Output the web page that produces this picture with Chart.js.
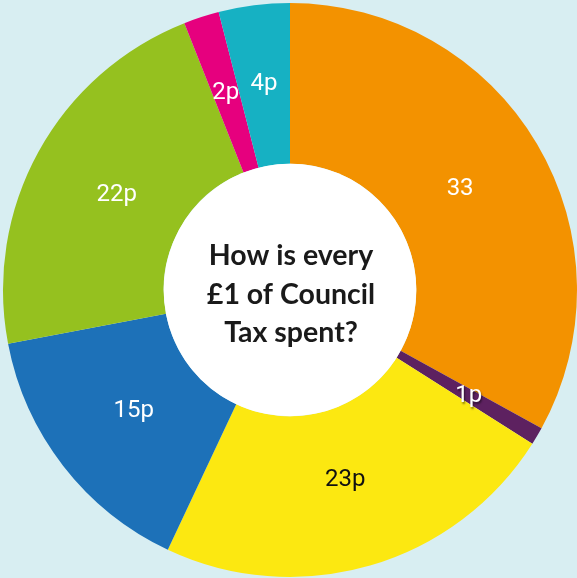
<!DOCTYPE html>
<html>
<head>
<meta charset="utf-8">
<script src="https://cdn.jsdelivr.net/npm/chart.js@4.4.0/dist/chart.umd.min.js"></script>
<style>
  html, body { margin: 0; padding: 0; background: #d8eef2; overflow: hidden; }
  #wrap { position: absolute; left: 0; top: 0; width: 580px; height: 580px; }
</style>
</head>
<body>
<div id="wrap"><canvas id="taxChart"></canvas></div>
<script>
'use strict';

// *********** DATA ****************
let services = ['Orange', 'Purple', 'Yellow', 'Blue', 'Green', 'Pink', 'Teal'];
let pence = [33, 1, 23, 15, 22, 2, 4];
let sliceLabels = ['33', '1p', '23p', '15p', '22p', '2p', '4p'];
let sliceColours = ['#f39200', '#5d2160', '#fce811', '#1d71b8', '#95c11f', '#e6007e', '#16b1c3'];
let labelColours = ['#ffffff', '#ffffff', '#111111', '#ffffff', '#ffffff', '#ffffff', '#ffffff'];
let centreLines = ['How is every', '£1 of Council', 'Tax spent?'];

// ********** PLUGIN: white centre + text ***************
let centrePlugin = {
  id: 'centre',
  afterDatasetsDraw(chart) {
    let ctx = chart.ctx;
    let meta = chart.getDatasetMeta(0);
    let arc = meta.data[0];
    let x = arc.x;
    let y = arc.y;

    ctx.save();
    ctx.fillStyle = '#ffffff';
    ctx.beginPath();
    ctx.arc(x, y, arc.innerRadius, 0, Math.PI * 2);
    ctx.fill();

    ctx.fillStyle = '#1a1a1a';
    ctx.font = 'bold 28.5px Lato';
    ctx.textAlign = 'center';
    ctx.textBaseline = 'middle';
    for (let i = 0; i < centreLines.length; i++) {
      ctx.fillText(centreLines[i], x + 1, y - 34 + i * 38.5);
    }

    // slice labels
    ctx.font = '24px Roboto';
    for (let i = 0; i < meta.data.length; i++) {
      let el = meta.data[i];
      let mid = (el.startAngle + el.endAngle) / 2;
      let r = (el.innerRadius + el.outerRadius) / 2 - 9;
      // thin slices get their label pushed out a little
      if (pence[i] <= 4) {
        r += 10;
      }
      ctx.shadowColor = 'rgba(0,0,0,0)';
      if (pence[i] === 1) {
        ctx.shadowColor = 'rgba(0,0,0,0.5)';
        ctx.shadowBlur = 2;
        ctx.shadowOffsetX = 1;
        ctx.shadowOffsetY = 2;
      }
      ctx.fillStyle = labelColours[i];
      ctx.fillText(sliceLabels[i], x + Math.cos(mid) * r, y + Math.sin(mid) * r);
    }
    ctx.restore();
  }
};

// ********** CHART ********************
let ctx = document.getElementById('taxChart').getContext('2d');

new Chart(ctx, {
  type: 'doughnut',
  data: {
    labels: services,
    datasets: [{
      data: pence,
      backgroundColor: sliceColours,
      borderWidth: 0
    }]
  },
  options: {
    responsive: true,
    maintainAspectRatio: false,
    animation: false,
    cutout: '44%',
    layout: { padding: 3 },
    plugins: {
      legend: { display: false },
      tooltip: { enabled: false }
    }
  },
  plugins: [centrePlugin]
});
</script>
</body>
</html>
